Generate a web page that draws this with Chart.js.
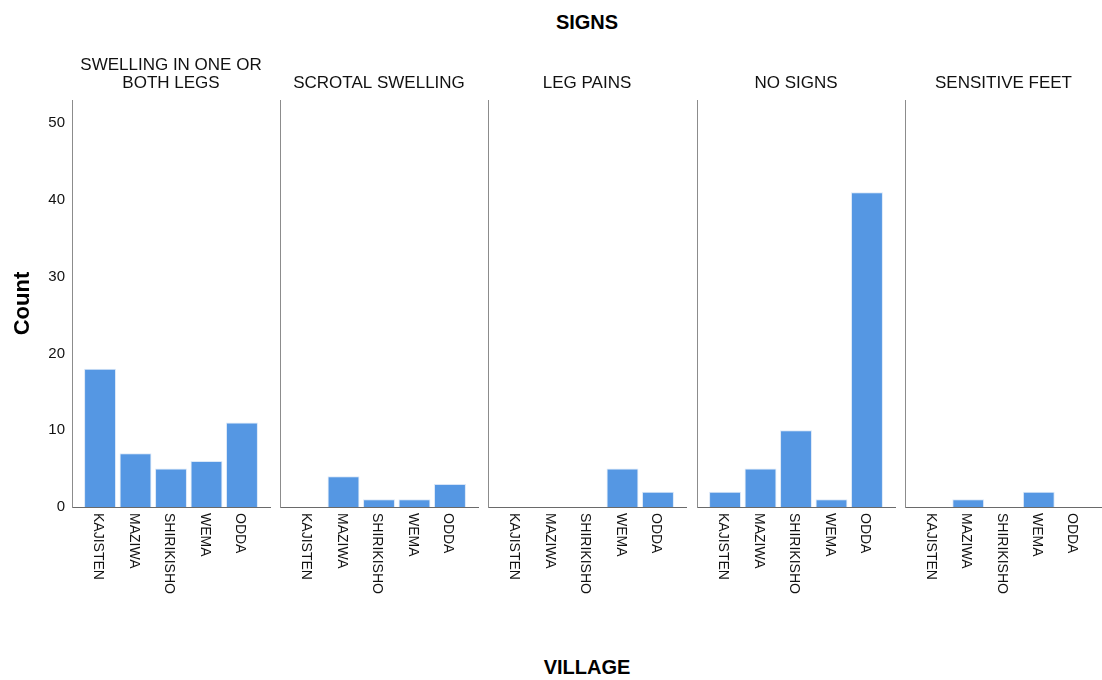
<!DOCTYPE html>
<html>
<head>
<meta charset="utf-8">
<script src="https://cdn.jsdelivr.net/npm/chart.js@4/dist/chart.umd.min.js"></script>
<style>
  html, body { margin: 0; padding: 0; background: #fff; }
  #wrap { position: relative; width: 1102px; height: 680px; overflow: hidden; font-family: Arial, "Liberation Sans", sans-serif; }
  #wrap canvas { position: absolute; left: 0; top: 0; }
  .big { position: absolute; font-weight: bold; font-size: 20px; line-height: 20px; color: #000; text-align: center; width: 300px; }
</style>
</head>
<body>
<div id="wrap">
  <div class="big" style="left:437px; top:12px;">SIGNS</div>
  <div class="big" style="left:437px; top:657px;">VILLAGE</div>
</div>
<script>
// Villages along each panel's x axis
const villages = ['KAJISTEN', 'MAZIWA', 'SHIRIKISHO', 'WEMA', 'ODDA'];

// One panel per reported sign
const signs = [['SWELLING IN ONE OR', 'BOTH LEGS'], 'SCROTAL SWELLING', 'LEG PAINS', 'NO SIGNS', 'SENSITIVE FEET'];

// Counts per village for each sign
const swellingLegs   = [18, 7, 5, 6, 11];
const scrotalSwell   = [0, 4, 1, 1, 3];
const legPains       = [0, 0, 0, 5, 2];
const noSigns        = [2, 5, 10, 1, 41];
const sensitiveFeet  = [0, 1, 0, 2, 0];

const countTicks = [0, 10, 20, 30, 40, 50];
const countMax = 53;

const seriesBySign = [swellingLegs, scrotalSwell, legPains, noSigns, sensitiveFeet];

// Layout of the panel grid
const W = 1102, H = 680;
const panelLeft = [72, 280, 488, 697, 905];
const panelWidth = 198;
const plotTop = 100, plotBottom = 507;
const xPad = 0.79;
const FONT = 'Arial, "Liberation Sans", sans-serif';
const BAR = '#5597e3';

// Draws the panel heading and the rotated village labels
const panelText = {
  id: 'panelText',
  afterDraw(chart, args, opts) {
    const ctx = chart.ctx;
    const area = chart.chartArea;
    const xs = chart.scales.x;
    ctx.save();
    ctx.fillStyle = '#111';
    ctx.font = '17px ' + FONT;
    ctx.textAlign = 'center';
    ctx.textBaseline = 'middle';
    const cx = (area.left + area.right) / 2;
    const lines = Array.isArray(opts.title) ? opts.title : [opts.title];
    lines.forEach((t, i) => {
      ctx.fillText(t, cx, 83 - (lines.length - 1 - i) * 18);
    });
    ctx.font = '14px ' + FONT;
    ctx.textAlign = 'left';
    villages.forEach((v, i) => {
      const x = xs.getPixelForValue(i) - 2;
      ctx.save();
      ctx.translate(x, area.bottom + 6);
      ctx.rotate(Math.PI / 2);
      ctx.fillText(v, 0, 0);
      ctx.restore();
    });
    ctx.restore();
  }
};

const wrap = document.getElementById('wrap');

seriesBySign.forEach((values, p) => {
  const canvas = document.createElement('canvas');
  canvas.width = W;
  canvas.height = H;
  wrap.appendChild(canvas);
  const first = p === 0;
  const left = panelLeft[p];

  new Chart(canvas, {
    type: 'bar',
    data: {
      datasets: [{
        data: values.map((v, i) => ({ x: i, y: v })),
        backgroundColor: BAR,
        borderColor: '#dbe8f8',
        borderWidth: c => (c.raw && c.raw.y > 0 ? 1 : 0),
        borderSkipped: 'bottom',
        barPercentage: 0.9,
        categoryPercentage: 1
      }]
    },
    options: {
      responsive: false,
      animation: false,
      events: [],
      layout: {
        padding: {
          left: first ? 0 : left,
          right: W - left - panelWidth,
          top: plotTop,
          bottom: H - plotBottom
        }
      },
      plugins: {
        legend: { display: false },
        tooltip: { enabled: false },
        panelText: { title: signs[p] }
      },
      scales: {
        x: {
          type: 'linear',
          offset: false,
          bounds: 'data',
          min: -xPad,
          max: villages.length - 1 + xPad,
          afterDataLimits: s => { s.min = -xPad; s.max = villages.length - 1 + xPad; },
          afterBuildTicks: s => {
            s.ticks = villages.map((_, i) => ({ value: i }));
            s.min = -xPad;
            s.max = villages.length - 1 + xPad;
          },
          afterFit: s => { s.height = 0; },
          ticks: { display: false },
          grid: { display: false, drawTicks: false, offset: false },
          border: { display: true, color: '#6a6a6a', width: 1 }
        },
        y: {
          min: 0,
          max: countMax,
          afterBuildTicks: s => { s.ticks = countTicks.map(v => ({ value: v })); },
          afterFit: s => { s.width = first ? left : 0; },
          ticks: {
            display: first,
            padding: 7,
            color: '#111',
            font: { family: FONT, size: 15 }
          },
          grid: { display: false, drawTicks: false },
          border: { display: true, color: '#8c8c8c', width: 1 },
          title: {
            display: first,
            text: 'Count',
            color: '#000',
            font: { family: FONT, size: 22, weight: 'bold' },
            padding: { top: 10, bottom: 0 }
          }
        }
      }
    },
    plugins: [panelText]
  });
});
</script>
</body>
</html>
